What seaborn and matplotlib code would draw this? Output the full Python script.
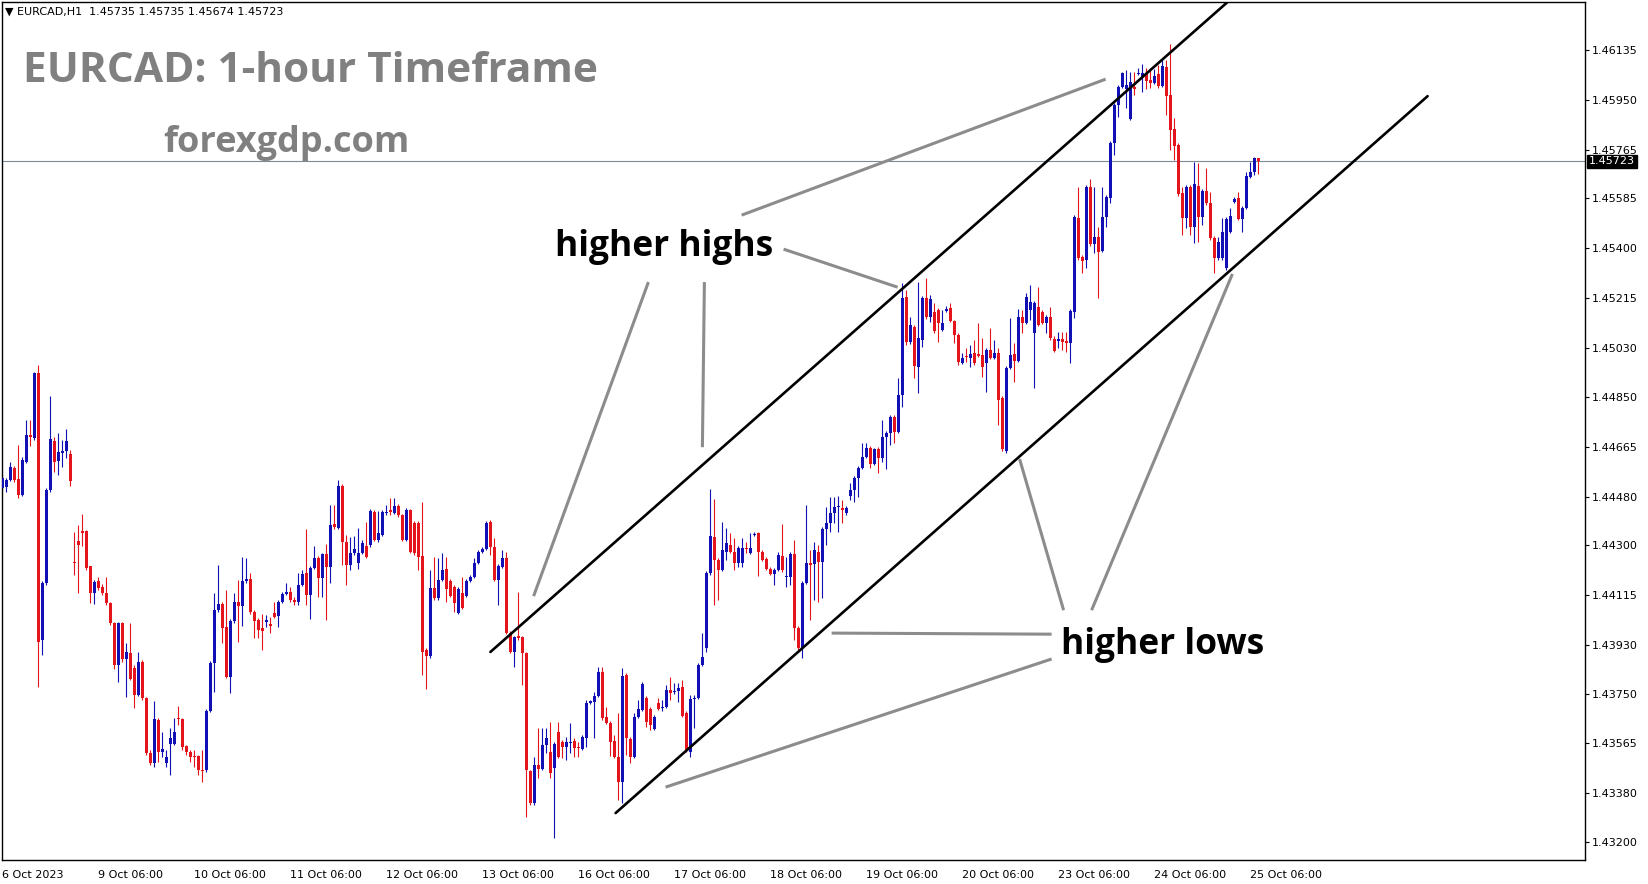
import numpy as np
import pandas as pd
import seaborn as sns
import matplotlib
matplotlib.use("Agg")
import matplotlib.pyplot as plt

# ----------------------
# EURCAD H1 candles, bar 0 = 6 Oct 06:00
# ----------------------
open_ = [
    1.44511, 1.44515, 1.44541, 1.44586, 1.44545, 1.44486, 1.44608, 1.44708, 1.44697, 1.44937,
    1.43948, 1.44159, 1.44504, 1.44686, 1.44611, 1.44641, 1.44649, 1.44637, 1.44237, 1.44315,
    1.44352, 1.44352, 1.44223, 1.44122, 1.44167, 1.44145, 1.44122, 1.44085, 1.44011, 1.43856,
    1.44011, 1.43878, 1.43900, 1.43845, 1.43745, 1.43867, 1.43734, 1.43530, 1.43493, 1.43652,
    1.43534, 1.43493, 1.43563, 1.43563, 1.43659, 1.43656, 1.43556, 1.43534, 1.43519, 1.43519,
    1.43466, 1.43466, 1.43685, 1.43863, 1.44059, 1.44081, 1.43996, 1.43811, 1.44019, 1.44089,
    1.44074, 1.44167, 1.44174, 1.44052, 1.44022, 1.43993, 1.44015, 1.44007, 1.44048, 1.44037,
    1.44089, 1.44119, 1.44126, 1.44096, 1.44089, 1.44152, 1.44197, 1.44115, 1.44215, 1.44252,
    1.44178, 1.44267, 1.44219, 1.44378, 1.44363, 1.44519, 1.44311, 1.44226, 1.44271, 1.44234,
    1.44271, 1.44297, 1.44300, 1.44423, 1.44319, 1.44337, 1.44419, 1.44430, 1.44419, 1.44445,
    1.44411, 1.44319, 1.44430, 1.44382, 1.44382, 1.44260, 1.43911, 1.43889, 1.44141, 1.44104,
    1.44171, 1.44212, 1.44167, 1.44145, 1.44048, 1.44122, 1.44111, 1.44167, 1.44182, 1.44234,
    1.44274, 1.44286, 1.44386, 1.44293, 1.44171, 1.44219, 1.44252, 1.43974, 1.43904, 1.43963,
    1.43959, 1.43900, 1.43463, 1.43344, 1.43485, 1.43470, 1.43560, 1.43534, 1.43474, 1.43608,
    1.43571, 1.43552, 1.43567, 1.43574, 1.43552, 1.43545, 1.43585, 1.43715, 1.43719, 1.43741,
    1.43830, 1.43663, 1.43641, 1.43574, 1.43515, 1.43422, 1.43818, 1.43582, 1.43515, 1.43663,
    1.43689, 1.43734, 1.43693, 1.43619, 1.43715, 1.43696, 1.43700, 1.43763, 1.43756, 1.43759,
    1.43774, 1.43678, 1.43534, 1.43730, 1.43734, 1.43856, 1.43919, 1.44197, 1.44330, 1.44245,
    1.44208, 1.44274, 1.44300, 1.44274, 1.44234, 1.44234, 1.44289, 1.44271, 1.44337, 1.44345,
    1.44274, 1.44249, 1.44212, 1.44193, 1.44208, 1.44260, 1.44182, 1.44182, 1.44267, 1.43993,
    1.43919, 1.44159, 1.44234, 1.44230, 1.44274, 1.44237, 1.44360, 1.44382, 1.44419, 1.44441,
    1.44437, 1.44419, 1.44482, 1.44504, 1.44548, 1.44586, 1.44626, 1.44660, 1.44600, 1.44656,
    1.44623, 1.44700, 1.44715, 1.44775, 1.44719, 1.44856, 1.45219, 1.45053, 1.45108, 1.44960,
    1.45060, 1.45216, 1.45145, 1.45164, 1.45171, 1.45097, 1.45167, 1.45179, 1.45131, 1.45079,
    1.44975, 1.45001, 1.44993, 1.45012, 1.45008, 1.45004, 1.44975, 1.45023, 1.44993, 1.45012,
    1.44845, 1.44649, 1.44956, 1.45008, 1.44982, 1.45145, 1.45123, 1.45171, 1.45086, 1.45182,
    1.45164, 1.45123, 1.45145, 1.45064, 1.45056, 1.45064, 1.45056, 1.45049, 1.45164, 1.45512,
    1.45368, 1.45356, 1.45627, 1.45416, 1.45442, 1.45390, 1.45516, 1.45586, 1.45790, 1.45931,
    1.45998, 1.45990, 1.45879, 1.45998, 1.46046, 1.46035, 1.46049, 1.46024, 1.46012, 1.46046,
    1.46001, 1.46072, 1.45968, 1.45842, 1.45783, 1.45605, 1.45512, 1.45627, 1.45479, 1.45631,
    1.45516, 1.45612, 1.45568, 1.45438, 1.45364, 1.45364, 1.45327, 1.45460, 1.45571, 1.45586,
    1.45508, 1.45549, 1.45664, 1.45683, 1.45735,
]
high = [
    1.44563, 1.44548, 1.44608, 1.44593, 1.44671, 1.44626, 1.44763, 1.44763, 1.44941, 1.44967,
    1.44167, 1.44511, 1.44852, 1.44700, 1.44715, 1.44689, 1.44730, 1.44652, 1.44348, 1.44374,
    1.44415, 1.44356, 1.44223, 1.44171, 1.44182, 1.44156, 1.44182, 1.44089, 1.44015, 1.44015,
    1.44015, 1.43937, 1.44011, 1.43856, 1.43904, 1.43874, 1.43737, 1.43541, 1.43722, 1.43659,
    1.43608, 1.43541, 1.43622, 1.43659, 1.43704, 1.43659, 1.43560, 1.43541, 1.43541, 1.43523,
    1.43541, 1.43693, 1.43870, 1.44122, 1.44226, 1.44089, 1.44134, 1.44026, 1.44122, 1.44171,
    1.44256, 1.44252, 1.44197, 1.44059, 1.44030, 1.44044, 1.44041, 1.44033, 1.44089, 1.44096,
    1.44126, 1.44159, 1.44145, 1.44108, 1.44197, 1.44208, 1.44360, 1.44223, 1.44297, 1.44260,
    1.44271, 1.44304, 1.44449, 1.44449, 1.44541, 1.44526, 1.44337, 1.44330, 1.44334, 1.44363,
    1.44319, 1.44386, 1.44434, 1.44430, 1.44426, 1.44430, 1.44449, 1.44474, 1.44474, 1.44452,
    1.44415, 1.44437, 1.44434, 1.44389, 1.44389, 1.44460, 1.43919, 1.44208, 1.44256, 1.44252,
    1.44271, 1.44256, 1.44174, 1.44152, 1.44145, 1.44182, 1.44174, 1.44189, 1.44252, 1.44282,
    1.44293, 1.44389, 1.44393, 1.44326, 1.44230, 1.44282, 1.44274, 1.43982, 1.43963, 1.44126,
    1.43963, 1.43904, 1.43466, 1.43515, 1.43622, 1.43622, 1.43622, 1.43645, 1.43571, 1.43645,
    1.43578, 1.43589, 1.43641, 1.43585, 1.43571, 1.43597, 1.43726, 1.43726, 1.43756, 1.43848,
    1.43848, 1.43700, 1.43648, 1.43597, 1.43678, 1.43845, 1.43826, 1.43589, 1.43678, 1.43726,
    1.43793, 1.43741, 1.43700, 1.43670, 1.43734, 1.43726, 1.43782, 1.43811, 1.43789, 1.43789,
    1.43800, 1.43685, 1.43745, 1.43745, 1.43863, 1.43974, 1.44204, 1.44508, 1.44471, 1.44252,
    1.44386, 1.44363, 1.44345, 1.44326, 1.44297, 1.44326, 1.44311, 1.44345, 1.44348, 1.44348,
    1.44282, 1.44256, 1.44219, 1.44215, 1.44274, 1.44378, 1.44256, 1.44274, 1.44319, 1.44000,
    1.44167, 1.44449, 1.44282, 1.44311, 1.44300, 1.44367, 1.44441, 1.44478, 1.44478, 1.44482,
    1.44467, 1.44445, 1.44530, 1.44556, 1.44593, 1.44678, 1.44678, 1.44667, 1.44660, 1.44663,
    1.44763, 1.44723, 1.44782, 1.44782, 1.44919, 1.45271, 1.45245, 1.45145, 1.45116, 1.45275,
    1.45223, 1.45290, 1.45227, 1.45197, 1.45179, 1.45171, 1.45186, 1.45197, 1.45134, 1.45086,
    1.45012, 1.45030, 1.45042, 1.45060, 1.45123, 1.45067, 1.45030, 1.45104, 1.45060, 1.45030,
    1.44852, 1.44964, 1.45142, 1.45049, 1.45175, 1.45171, 1.45234, 1.45264, 1.45205, 1.45256,
    1.45171, 1.45153, 1.45182, 1.45075, 1.45090, 1.45090, 1.45090, 1.45175, 1.45523, 1.45627,
    1.45375, 1.45634, 1.45657, 1.45627, 1.45479, 1.45627, 1.45597, 1.45797, 1.45938, 1.46005,
    1.46053, 1.46061, 1.46053, 1.46053, 1.46068, 1.46083, 1.46068, 1.46068, 1.46064, 1.46079,
    1.46098, 1.46098, 1.46157, 1.45883, 1.45790, 1.45627, 1.45634, 1.45634, 1.45720, 1.45716,
    1.45620, 1.45697, 1.45608, 1.45445, 1.45442, 1.45512, 1.45516, 1.45549, 1.45590, 1.45608,
    1.45557, 1.45683, 1.45720, 1.45738, 1.45735,
]
low = [
    1.44504, 1.44497, 1.44537, 1.44534, 1.44474, 1.44482, 1.44604, 1.44667, 1.44689, 1.43774,
    1.43892, 1.44152, 1.44497, 1.44571, 1.44560, 1.44589, 1.44623, 1.44519, 1.44189, 1.44122,
    1.44297, 1.44208, 1.44085, 1.44081, 1.44134, 1.44115, 1.44078, 1.44003, 1.43841, 1.43793,
    1.43867, 1.43737, 1.43800, 1.43696, 1.43741, 1.43726, 1.43523, 1.43485, 1.43478, 1.43497,
    1.43515, 1.43478, 1.43448, 1.43560, 1.43634, 1.43541, 1.43523, 1.43497, 1.43478, 1.43448,
    1.43422, 1.43459, 1.43682, 1.43756, 1.44052, 1.43937, 1.43808, 1.43752, 1.44011, 1.43941,
    1.44000, 1.44159, 1.44044, 1.43956, 1.43956, 1.43911, 1.43996, 1.43974, 1.44030, 1.43996,
    1.44085, 1.44115, 1.44089, 1.44078, 1.44078, 1.44148, 1.44078, 1.44026, 1.44212, 1.44108,
    1.44108, 1.44022, 1.44159, 1.44360, 1.44360, 1.44226, 1.44152, 1.44208, 1.44263, 1.44212,
    1.44267, 1.44252, 1.44293, 1.44315, 1.44311, 1.44334, 1.44411, 1.44411, 1.44415, 1.44404,
    1.44315, 1.44315, 1.44271, 1.44263, 1.44208, 1.43818, 1.43767, 1.43882, 1.44096, 1.44096,
    1.44167, 1.44089, 1.44108, 1.44052, 1.44044, 1.44063, 1.44108, 1.44163, 1.44178, 1.44230,
    1.44271, 1.44282, 1.44263, 1.44167, 1.44078, 1.44215, 1.43970, 1.43900, 1.43848, 1.43948,
    1.43782, 1.43292, 1.43337, 1.43337, 1.43437, 1.43466, 1.43530, 1.43437, 1.43214, 1.43511,
    1.43511, 1.43504, 1.43530, 1.43515, 1.43515, 1.43541, 1.43552, 1.43711, 1.43585, 1.43737,
    1.43652, 1.43637, 1.43519, 1.43511, 1.43355, 1.43344, 1.43523, 1.43493, 1.43511, 1.43659,
    1.43685, 1.43626, 1.43615, 1.43615, 1.43689, 1.43685, 1.43696, 1.43726, 1.43748, 1.43719,
    1.43663, 1.43534, 1.43515, 1.43622, 1.43730, 1.43852, 1.43904, 1.44189, 1.44078, 1.44096,
    1.44204, 1.44245, 1.44271, 1.44208, 1.44219, 1.44219, 1.44271, 1.44267, 1.44334, 1.44186,
    1.44241, 1.44208, 1.44189, 1.44152, 1.44204, 1.44200, 1.44145, 1.44152, 1.43948, 1.43911,
    1.43882, 1.44156, 1.44022, 1.44096, 1.44089, 1.44104, 1.44300, 1.44348, 1.44382, 1.44348,
    1.44382, 1.44411, 1.44467, 1.44460, 1.44478, 1.44582, 1.44623, 1.44586, 1.44597, 1.44567,
    1.44608, 1.44582, 1.44671, 1.44678, 1.44715, 1.44812, 1.45042, 1.45045, 1.44919, 1.44863,
    1.45034, 1.45138, 1.45127, 1.45086, 1.45053, 1.45093, 1.45164, 1.45127, 1.45049, 1.44967,
    1.44971, 1.44978, 1.44960, 1.44967, 1.44997, 1.44923, 1.44867, 1.44990, 1.44990, 1.44745,
    1.44649, 1.44641, 1.44953, 1.44904, 1.44978, 1.45086, 1.45119, 1.45134, 1.44881, 1.45112,
    1.45119, 1.45086, 1.45060, 1.45015, 1.45030, 1.45023, 1.45015, 1.44975, 1.45142, 1.45356,
    1.45308, 1.45327, 1.45408, 1.45382, 1.45216, 1.45386, 1.45479, 1.45568, 1.45746, 1.45886,
    1.45994, 1.45920, 1.45875, 1.45968, 1.46042, 1.45979, 1.45990, 1.45994, 1.46009, 1.45994,
    1.45998, 1.45894, 1.45764, 1.45727, 1.45594, 1.45449, 1.45475, 1.45449, 1.45419, 1.45423,
    1.45486, 1.45560, 1.45431, 1.45308, 1.45356, 1.45356, 1.45319, 1.45457, 1.45568, 1.45505,
    1.45460, 1.45545, 1.45660, 1.45671, 1.45674,
]
close = [
    1.44548, 1.44541, 1.44589, 1.44541, 1.44486, 1.44615, 1.44708, 1.44700, 1.44937, 1.43941,
    1.44159, 1.44504, 1.44693, 1.44608, 1.44645, 1.44649, 1.44686, 1.44537, 1.44234, 1.44300,
    1.44345, 1.44215, 1.44122, 1.44163, 1.44141, 1.44122, 1.44085, 1.44011, 1.43856, 1.44011,
    1.43878, 1.43904, 1.43804, 1.43745, 1.43867, 1.43734, 1.43530, 1.43493, 1.43656, 1.43534,
    1.43545, 1.43515, 1.43585, 1.43608, 1.43656, 1.43552, 1.43534, 1.43515, 1.43515, 1.43466,
    1.43463, 1.43685, 1.43863, 1.44059, 1.44081, 1.43993, 1.43811, 1.44019, 1.44089, 1.44074,
    1.44167, 1.44174, 1.44052, 1.44019, 1.43985, 1.43982, 1.44022, 1.44000, 1.44033, 1.44089,
    1.44119, 1.44126, 1.44096, 1.44089, 1.44152, 1.44193, 1.44115, 1.44215, 1.44252, 1.44178,
    1.44267, 1.44219, 1.44374, 1.44367, 1.44519, 1.44311, 1.44226, 1.44271, 1.44286, 1.44271,
    1.44308, 1.44256, 1.44426, 1.44319, 1.44345, 1.44423, 1.44423, 1.44423, 1.44445, 1.44411,
    1.44319, 1.44430, 1.44274, 1.44271, 1.44256, 1.43904, 1.43889, 1.44141, 1.44104, 1.44171,
    1.44208, 1.44137, 1.44111, 1.44085, 1.44137, 1.44067, 1.44167, 1.44182, 1.44234, 1.44274,
    1.44286, 1.44382, 1.44293, 1.44171, 1.44223, 1.44252, 1.43974, 1.43904, 1.43959, 1.43956,
    1.43900, 1.43466, 1.43344, 1.43485, 1.43470, 1.43560, 1.43585, 1.43455, 1.43563, 1.43515,
    1.43552, 1.43571, 1.43571, 1.43548, 1.43548, 1.43589, 1.43715, 1.43722, 1.43741, 1.43830,
    1.43659, 1.43641, 1.43571, 1.43515, 1.43422, 1.43815, 1.43585, 1.43515, 1.43663, 1.43693,
    1.43785, 1.43645, 1.43634, 1.43663, 1.43693, 1.43700, 1.43763, 1.43752, 1.43759, 1.43770,
    1.43667, 1.43541, 1.43730, 1.43734, 1.43856, 1.43885, 1.44197, 1.44334, 1.44245, 1.44208,
    1.44282, 1.44308, 1.44274, 1.44234, 1.44289, 1.44289, 1.44286, 1.44289, 1.44341, 1.44274,
    1.44245, 1.44212, 1.44193, 1.44208, 1.44263, 1.44208, 1.44186, 1.44267, 1.43993, 1.43919,
    1.44159, 1.44234, 1.44226, 1.44282, 1.44237, 1.44360, 1.44382, 1.44419, 1.44441, 1.44445,
    1.44430, 1.44437, 1.44504, 1.44548, 1.44586, 1.44626, 1.44660, 1.44600, 1.44656, 1.44623,
    1.44700, 1.44715, 1.44775, 1.44719, 1.44856, 1.45216, 1.45053, 1.45116, 1.44964, 1.45067,
    1.45216, 1.45145, 1.45212, 1.45093, 1.45123, 1.45123, 1.45175, 1.45131, 1.45079, 1.44978,
    1.44993, 1.44997, 1.45008, 1.44975, 1.45001, 1.44960, 1.45023, 1.44993, 1.45012, 1.44837,
    1.44656, 1.44956, 1.45004, 1.44982, 1.45145, 1.45123, 1.45219, 1.45201, 1.45197, 1.45116,
    1.45123, 1.45145, 1.45067, 1.45019, 1.45064, 1.45053, 1.45049, 1.45167, 1.45516, 1.45364,
    1.45353, 1.45627, 1.45416, 1.45442, 1.45386, 1.45516, 1.45590, 1.45790, 1.45931, 1.45998,
    1.46049, 1.46005, 1.46016, 1.45990, 1.46049, 1.46049, 1.46020, 1.46012, 1.46038, 1.46001,
    1.46075, 1.45964, 1.45838, 1.45779, 1.45601, 1.45512, 1.45627, 1.45479, 1.45638, 1.45516,
    1.45612, 1.45568, 1.45438, 1.45364, 1.45423, 1.45460, 1.45508, 1.45520, 1.45583, 1.45508,
    1.45549, 1.45668, 1.45683, 1.45734, 1.45723,
]

# axis labels
date_labels = ["6 Oct 2023", "9 Oct 06:00", "10 Oct 06:00", "11 Oct 06:00", "12 Oct 06:00",
               "13 Oct 06:00", "16 Oct 06:00", "17 Oct 06:00", "18 Oct 06:00", "19 Oct 06:00",
               "20 Oct 06:00", "23 Oct 06:00", "24 Oct 06:00", "25 Oct 06:00"]
date_bars = [0, 24, 48, 72, 96, 120, 144, 168, 192, 216, 240, 264, 288, 312]
price_ticks = [1.46135, 1.45950, 1.45765, 1.45585, 1.45400, 1.45215, 1.45030, 1.44850, 1.44665,
               1.44480, 1.44300, 1.44115, 1.43930, 1.43750, 1.43565, 1.43380, 1.43200]
last_price = 1.45723
header = "\u25bc EURCAD,H1  1.45735 1.45735 1.45674 1.45723"

# channel lines (bar, price)
upper_bars = [122.0, 306.3]
upper_prices = [1.43904, 1.46313]
lower_bars = [153.3, 356.3]
lower_prices = [1.43307, 1.45964]

# grey pointer lines from the labels
high_pointers = [[(184.8, 1.45523), (275.8, 1.46027)],
                 [(195.3, 1.45397), (223.8, 1.45256)],
                 [(161.5, 1.45275), (132.8, 1.44111)],
                 [(175.5, 1.45275), (175.0, 1.44663)]]
low_pointers = [[(262.3, 1.43970), (207.3, 1.43974)],
                [(262.3, 1.43878), (165.8, 1.43403)],
                [(265.3, 1.44059), (254.3, 1.44619)],
                [(272.3, 1.44059), (307.5, 1.45305)]]

candles = pd.DataFrame({"Open": open_, "High": high, "Low": low, "Close": close})
candles["Bar"] = np.arange(len(candles))
candles["Up"] = candles["Close"] >= candles["Open"]

# ----------------------
# Plot
# ----------------------
sns.set_theme(style="white")
plt.rcParams["font.family"] = ["DejaVu Sans"]

W, H = 1649, 884
fig = plt.figure(figsize=(W / 100, H / 100), dpi=100)
ax = fig.add_axes([2 / W, 24 / H, 1583 / W, 858 / H])

up_col, down_col = "#1010b4", "#e4141c"
colors = np.where(candles["Up"], up_col, down_col)

ax.vlines(candles["Bar"], candles["Low"], candles["High"], colors=colors, linewidth=0.8, zorder=2)
body_low = candles[["Open", "Close"]].min(axis=1)
body_h = (candles["Close"] - candles["Open"]).abs().clip(lower=0.00004)
ax.bar(candles["Bar"], body_h, bottom=body_low, width=0.78, color=colors, linewidth=0, zorder=3)

# current price line
ax.axhline(last_price, color="#7f8a94", linewidth=0.8, zorder=1)

# channel
sns.lineplot(x=upper_bars, y=upper_prices, color="black", linewidth=1.9, ax=ax, zorder=4)
sns.lineplot(x=lower_bars, y=lower_prices, color="black", linewidth=1.9, ax=ax, zorder=4)

for seg in high_pointers + low_pointers:
    xs, ys = zip(*seg)
    ax.plot(xs, ys, color="#8c8c8c", linewidth=2.2, solid_capstyle="butt", zorder=5)

label_font = ["Open Sans", "DejaVu Sans"]
ax.text(165.5, 1.45405, "higher highs", ha="center", va="center", fontsize=25.5,
        fontweight="bold", color="black", family=label_font, zorder=6)
ax.text(290.0, 1.43930, "higher lows", ha="center", va="center", fontsize=25.5,
        fontweight="bold", color="black", family=label_font, zorder=6)

ax.set_xlim(-0.1, 395.65)
ax.set_ylim(1.43133, 1.46313)

# axes styling
for sp in ax.spines.values():
    sp.set_visible(True)
    sp.set_color("black")
    sp.set_linewidth(1.0)

ax.yaxis.tick_right()
ax.set_yticks(price_ticks)
ax.set_yticklabels([f"{v:.5f}" for v in price_ticks])
ax.set_xticks(date_bars)
ax.set_xticklabels(date_labels)
for lbl in ax.get_xticklabels():
    lbl.set_horizontalalignment("left")
ax.tick_params(axis="both", direction="out", length=3, width=0.8, color="black",
               labelsize=8, labelcolor="black", pad=2)
ax.tick_params(axis="x", length=4, pad=3)
ax.grid(False)

# last price tag on the price scale
ax.annotate(f"{last_price:.5f}", xy=(1.0, last_price), xycoords=("axes fraction", "data"),
            xytext=(4, 0), textcoords="offset pixels", ha="left", va="center",
            fontsize=8, color="white", annotation_clip=False, zorder=10,
            bbox=dict(boxstyle="square,pad=0.15", fc="black", ec="black"))

# header + watermark texts
fig.text(5 / W, 1 - 12 / H, header, fontsize=8, va="center", ha="left", color="black")
fig.text(23 / W, 1 - 71 / H, "EURCAD: 1-hour Timeframe", fontsize=30.5, fontweight="bold",
         color="#808080", va="center", ha="left", family=label_font)
fig.text(163 / W, 1 - 143 / H, "forexgdp.com", fontsize=26, fontweight="bold",
         color="#808080", va="center", ha="left", family=label_font)

fig.savefig("out.png", dpi=100, facecolor="white")
